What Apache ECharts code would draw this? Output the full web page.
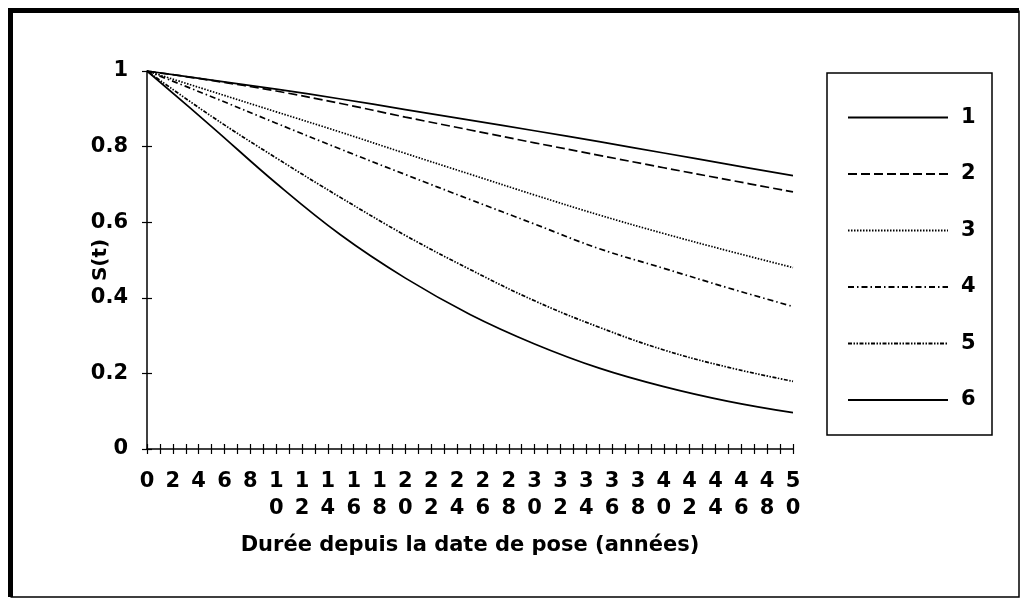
<!DOCTYPE html>
<html>
<head>
<meta charset="utf-8">
<script src="https://cdn.jsdelivr.net/npm/echarts@6/dist/echarts.min.js"></script>
<style>
html,body{margin:0;padding:0;background:#fff;}
#chart{width:1023px;height:603px;}
</style>
</head>
<body>
<div id="chart"></div>
<script>
// Data
var years = [0, 5, 10, 15, 20, 25, 30, 35, 40, 45, 50];
var s1 = [1, 0.976, 0.952, 0.926, 0.898, 0.870, 0.842, 0.813, 0.783, 0.753, 0.723];
var s2 = [1, 0.975, 0.947, 0.914, 0.878, 0.844, 0.810, 0.777, 0.744, 0.712, 0.680];
var s3 = [1, 0.946, 0.892, 0.838, 0.782, 0.727, 0.672, 0.619, 0.570, 0.524, 0.480];
var s4 = [1, 0.932, 0.862, 0.793, 0.726, 0.660, 0.595, 0.530, 0.478, 0.426, 0.377];
var s5 = [1, 0.880, 0.770, 0.665, 0.565, 0.475, 0.392, 0.322, 0.262, 0.216, 0.179];
var s6 = [1, 0.853, 0.703, 0.566, 0.452, 0.356, 0.278, 0.214, 0.165, 0.126, 0.096];
var seriesNames = ['1', '2', '3', '4', '5', '6'];
var xTitle = 'Durée depuis la date de pose (années)';
var yTitle = 'S(t)';
var xMin = 0, xMax = 50, xStep = 1;
var yMin = 0, yMax = 1, yStep = 0.2;

var allSeries = [s1, s2, s3, s4, s5, s6];
var dashes = ['solid', [9, 4], [1.5, 1.5], [6, 3, 1.5, 3], [4, 1.5, 1.5, 1.5, 1.5, 1.5], 'solid'];

function pairs(arr) {
  return years.map(function (y, i) { return [y, arr[i]]; });
}

var FONT = '"DejaVu Sans", sans-serif';
var FS = 21;
var chart = echarts.init(document.getElementById('chart'), null, {renderer: 'canvas'});

var series = allSeries.map(function (arr, i) {
  return {
    name: seriesNames[i],
    type: 'line',
    xAxisIndex: 0,
    yAxisIndex: 0,
    data: pairs(arr),
    smooth: 0.4,
    symbol: 'none',
    showSymbol: false,
    animation: false,
    lineStyle: {color: '#000', width: 1.7, type: dashes[i]},
    itemStyle: {color: '#000'}
  };
});

var option = {
  animation: false,
  backgroundColor: '#fff',
  grid: {left: 147, right: 1023 - 793, top: 71, bottom: 603 - 449, containLabel: false},
  xAxis: [{
    type: 'value', min: xMin, max: xMax, interval: xStep, position: 'bottom',
    axisLine: {show: true, lineStyle: {color: '#000', width: 1.5}},
    axisTick: {show: true, inside: false, length: 5, lineStyle: {color: '#000', width: 1.2}},
    splitLine: {show: false},
    axisLabel: {
      margin: 19, color: '#000', fontFamily: FONT, fontWeight: 'bold', fontSize: FS, lineHeight: 27,
      formatter: function (v) {
        if (v % 2 !== 0) return '';
        return String(v).split('').join('\n');
      }
    },
    name: xTitle, nameLocation: 'middle', nameGap: 86, nameMoveOverlap: false,
    nameTextStyle: {color: '#000', fontFamily: FONT, fontWeight: 'bold', fontSize: FS}
  }, {
    type: 'value', min: xMin, max: xMax, interval: xStep, position: 'bottom',
    axisLine: {show: false},
    axisTick: {show: true, inside: true, length: 5, lineStyle: {color: '#000', width: 1.2}},
    axisLabel: {show: false}, splitLine: {show: false}
  }],
  yAxis: [{
    type: 'value', min: yMin, max: yMax, interval: yStep, position: 'left',
    axisLine: {show: true, lineStyle: {color: '#000', width: 1.5}},
    axisTick: {show: true, inside: false, length: 5, lineStyle: {color: '#000', width: 1.2}},
    splitLine: {show: false},
    axisLabel: {margin: 19, color: '#000', fontFamily: FONT, fontWeight: 'bold', fontSize: FS},
    name: yTitle, nameLocation: 'middle', nameGap: 36, nameRotate: 90, nameMoveOverlap: false,
    nameTextStyle: {color: '#000', fontFamily: FONT, fontWeight: 'bold', fontSize: 20}
  }, {
    type: 'value', min: yMin, max: yMax, interval: yStep, position: 'left',
    axisLine: {show: false},
    axisTick: {show: true, inside: true, length: 5, lineStyle: {color: '#000', width: 1.2}},
    axisLabel: {show: false}, splitLine: {show: false}
  }],
  legend: {
    data: seriesNames,
    orient: 'vertical',
    left: 847, top: 107,
    itemWidth: 100, itemHeight: 16, itemGap: 35.5,
    padding: 0,
    itemStyle: {color: 'rgba(0,0,0,0)', borderWidth: 0, opacity: 0},
    textStyle: {color: '#000', fontFamily: FONT, fontWeight: 'bold', fontSize: FS, padding: [0, 0, 0, 8]}
  },
  graphic: [
    {type: 'rect', silent: true, z: -1,
     shape: {x: 827, y: 73, width: 165, height: 362},
     style: {fill: 'none', stroke: '#000', lineWidth: 1.5}},
    {type: 'polyline', silent: true,
     shape: {points: [[10.5, 597], [10.5, 10.5], [1019, 10.5]]},
     style: {fill: 'none', stroke: '#000', lineWidth: 5}},
    {type: 'polyline', silent: true,
     shape: {points: [[1019, 10.5], [1019, 597], [10.5, 597]]},
     style: {fill: 'none', stroke: '#000', lineWidth: 1.5}}
  ],
  series: series
};
chart.setOption(option);
</script>
</body>
</html>
